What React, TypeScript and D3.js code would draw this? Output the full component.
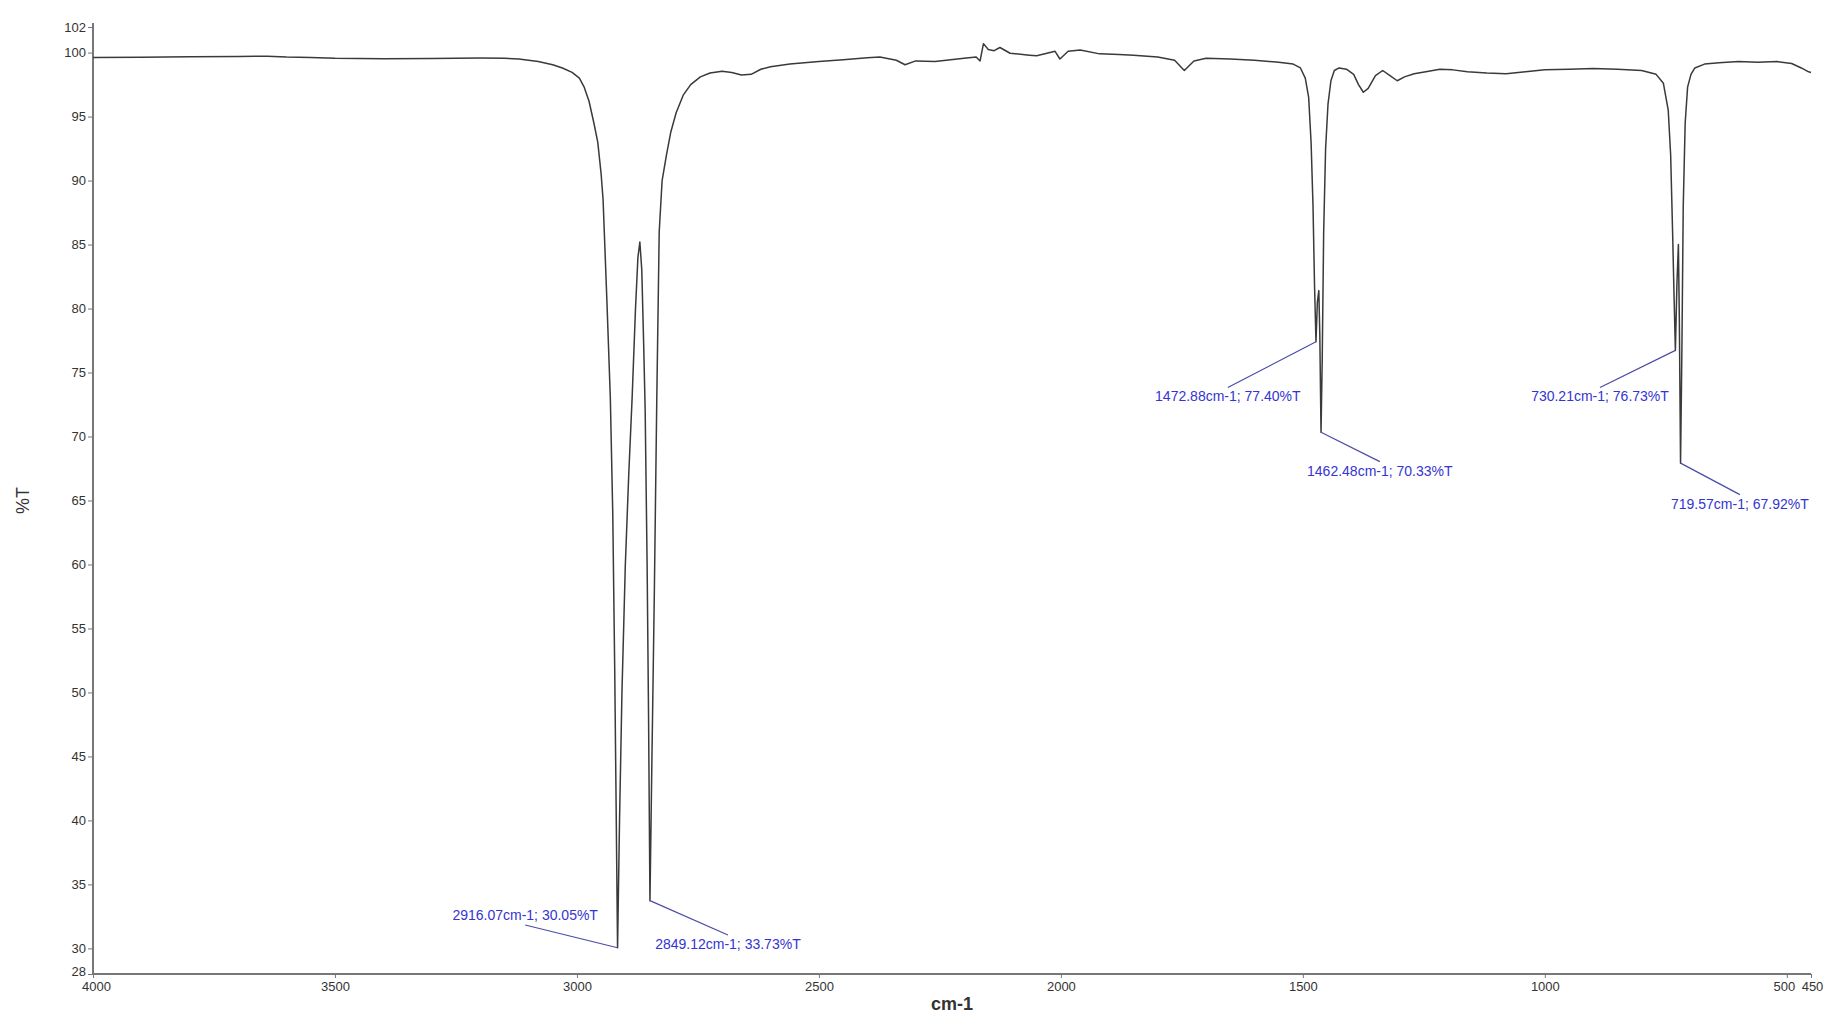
import React, { useEffect, useRef } from 'react'
import * as d3 from 'd3'

// IR spectrum, wavenumber (cm-1) vs transmittance (%T)
const wavenumbers = [
  4000, 3900, 3800, 3700, 3640, 3600, 3550, 3500, 3400, 3300, 3200, 3150, 3120, 3080, 3050, 3030, 3010,
  2995, 2985, 2975, 2965, 2957, 2950, 2946, 2938, 2931, 2926, 2922, 2919, 2916.07, 2912, 2907, 2900,
  2893, 2886, 2879, 2874, 2870, 2866, 2862, 2859, 2855, 2852, 2849.12, 2845, 2840, 2835, 2830, 2824,
  2815, 2806, 2795, 2780, 2765, 2745, 2725, 2700, 2680, 2660, 2640, 2620, 2600, 2560, 2500, 2450, 2400,
  2374, 2340, 2322, 2300, 2260, 2200, 2175, 2167, 2160, 2150, 2138, 2126, 2105, 2065, 2050, 2012, 2002,
  1985, 1960, 1920, 1880, 1850, 1800, 1765, 1745, 1725, 1700, 1650, 1600, 1550, 1520, 1505, 1495, 1488,
  1483, 1479, 1476, 1472.88, 1470, 1467, 1465, 1462.48, 1460, 1457, 1453, 1448, 1442, 1435, 1425, 1410,
  1395, 1385, 1375, 1365, 1350, 1335, 1320, 1305, 1290, 1270, 1240, 1217, 1190, 1160, 1120, 1080, 1040,
  1000, 950, 900, 850, 800, 770, 755, 745, 740, 736, 733, 730.21, 727, 724, 722, 719.57, 717, 714, 710,
  705, 698, 690, 670, 640, 600, 560, 520, 490, 470, 455, 450
]
const transmittance = [
  99.62, 99.64, 99.67, 99.7, 99.72, 99.65, 99.62, 99.55, 99.52, 99.54, 99.57, 99.55, 99.5, 99.3, 99.05, 98.8, 98.45,
  98.0, 97.3, 96.2, 94.5, 93.0, 90.5, 88.5, 80.5, 73.0, 64.0, 52.0, 41.0, 30.05, 40.0, 50.0, 60.0,
  67.0, 73.0, 80.0, 84.0, 85.2, 83.0, 77.0, 72.0, 60.0, 48.0, 33.73, 45.0, 58.0, 73.0, 86.0, 90.0,
  92.0, 93.8, 95.3, 96.7, 97.5, 98.1, 98.4, 98.55, 98.45, 98.25, 98.3, 98.7, 98.9, 99.1, 99.3, 99.45, 99.6,
  99.65, 99.4, 99.05, 99.35, 99.3, 99.55, 99.65, 99.35, 100.7, 100.25, 100.15, 100.4, 99.95, 99.8, 99.75, 100.1, 99.5,
  100.1, 100.2, 99.9, 99.85, 99.8, 99.65, 99.4, 98.6, 99.35, 99.55, 99.5, 99.4, 99.25, 99.1, 98.8, 98.0, 96.5,
  93.0, 88.0, 82.0, 77.4, 80.5, 81.4, 78.0, 70.33, 76.0, 86.0, 92.5, 96.0, 97.8, 98.6, 98.8, 98.7,
  98.3, 97.5, 96.9, 97.2, 98.2, 98.6, 98.2, 97.8, 98.1, 98.35, 98.55, 98.7, 98.65, 98.5, 98.4, 98.35, 98.5,
  98.65, 98.7, 98.75, 98.7, 98.6, 98.3, 97.6, 95.5, 92.0, 86.0, 81.0, 76.73, 82.0, 85.0, 79.0, 67.92, 76.0, 88.0, 94.5,
  97.3, 98.3, 98.8, 99.1, 99.2, 99.3, 99.25, 99.3, 99.15, 98.8, 98.5, 98.45
]

const yTicks = [28, 30, 35, 40, 45, 50, 55, 60, 65, 70, 75, 80, 85, 90, 95, 100, 102]
const xTicks = [4000, 3500, 3000, 2500, 2000, 1500, 1000, 500, 450]

// peak picks
const peakWavenumbers = [2916.07, 2849.12, 1472.88, 1462.48, 730.21, 719.57]
const peakValues = [30.05, 33.73, 77.4, 70.33, 76.73, 67.92]
// where each leader line ends (data units) and whether the text sits above it
const leaderWavenumbers = [3107, 2688, 1655, 1341, 886, 597]
const leaderValues = [31.83, 31.05, 73.83, 68.04, 73.83, 65.46]
const labelAbove = [true, false, false, false, false, false]

const W = 1831
const H = 1021

export default function App() {
  const ref = useRef<SVGSVGElement>(null)

  useEffect(() => {
    const svg = d3.select(ref.current)
    svg.selectAll('*').remove()

    const left = 93, right = 1811, top = 27, bottom = 974
    const x = d3.scaleLinear().domain([4000, 450]).range([left, right])
    const y = d3.scaleLinear().domain([28, 102]).range([bottom, top])

    const font = 'Liberation Sans, Arial, sans-serif'

    // y axis
    const yAxis = svg.append('g')
      .attr('transform', `translate(${left},0)`)
      .call(d3.axisLeft(y).tickValues(yTicks).tickSize(5).tickPadding(2).tickFormat(d3.format('d')))
    yAxis.select('.domain').attr('stroke', '#777').attr('stroke-width', 2).attr('d', `M0,${top - 4}V${bottom}`)
    yAxis.selectAll('.tick line').attr('stroke', '#777')
    yAxis.selectAll('.tick text').attr('fill', '#333').attr('font-size', 13).attr('font-family', font)
    // 28 sits right on the corner, lift it a touch
    yAxis.selectAll<SVGTextElement, number>('.tick text').filter(d => d === 28).attr('dy', '0.15em')

    // x axis
    const xAxis = svg.append('g')
      .attr('transform', `translate(0,${bottom})`)
      .call(d3.axisBottom(x).tickValues(xTicks).tickSize(4).tickPadding(4).tickFormat(d3.format('d')))
    xAxis.select('.domain').attr('stroke', '#777').attr('stroke-width', 2).attr('d', `M${left},0H${right}`)
    xAxis.selectAll('.tick line').attr('stroke', '#777')
    xAxis.selectAll('.tick text').attr('fill', '#333').attr('font-size', 13).attr('font-family', font)
    xAxis.selectAll<SVGTextElement, number>('.tick text').filter(d => d === 500).attr('dx', -3)
    xAxis.selectAll<SVGTextElement, number>('.tick text').filter(d => d === 450).attr('dx', 1)
    xAxis.selectAll<SVGTextElement, number>('.tick text').filter(d => d === 4000).attr('dx', 3)

    svg.append('text')
      .attr('x', (left + right) / 2)
      .attr('y', 1010)
      .attr('text-anchor', 'middle')
      .attr('font-family', font)
      .attr('font-size', 18)
      .attr('font-weight', 'bold')
      .attr('fill', '#333')
      .text('cm-1')

    svg.append('text')
      .attr('transform', `translate(29,${(top + bottom) / 2}) rotate(-90)`)
      .attr('text-anchor', 'middle')
      .attr('font-family', font)
      .attr('font-size', 18)
      .attr('fill', '#333')
      .text('%T')

    // spectrum
    const pts = wavenumbers.map((w, i) => [w, transmittance[i]] as [number, number])
    const line = d3.line<[number, number]>()
      .x(d => x(d[0]))
      .y(d => y(d[1]))
    svg.append('path')
      .datum(pts)
      .attr('fill', 'none')
      .attr('stroke', '#3a3a3a')
      .attr('stroke-width', 1.5)
      .attr('stroke-linejoin', 'round')
      .attr('d', line)

    // peak labels
    peakWavenumbers.forEach((w, i) => {
      const px = x(w), py = y(peakValues[i])
      const lx = x(leaderWavenumbers[i]), ly = y(leaderValues[i])
      svg.append('line')
        .attr('x1', px).attr('y1', py)
        .attr('x2', lx).attr('y2', ly)
        .attr('stroke', '#4b4ba8')
        .attr('stroke-width', 1.2)
      svg.append('text')
        .attr('x', lx)
        .attr('y', labelAbove[i] ? ly - 5 : ly + 14)
        .attr('text-anchor', 'middle')
        .attr('font-family', font)
        .attr('font-size', 14)
        .attr('fill', '#3434d2')
        .text(`${w.toFixed(2)}cm-1; ${peakValues[i].toFixed(2)}%T`)
    })
  }, [])

  return (
    <svg ref={ref} width={W} height={H}
      style={{ position: 'absolute', left: 0, top: 0, background: '#fff' }} />
  )
}
